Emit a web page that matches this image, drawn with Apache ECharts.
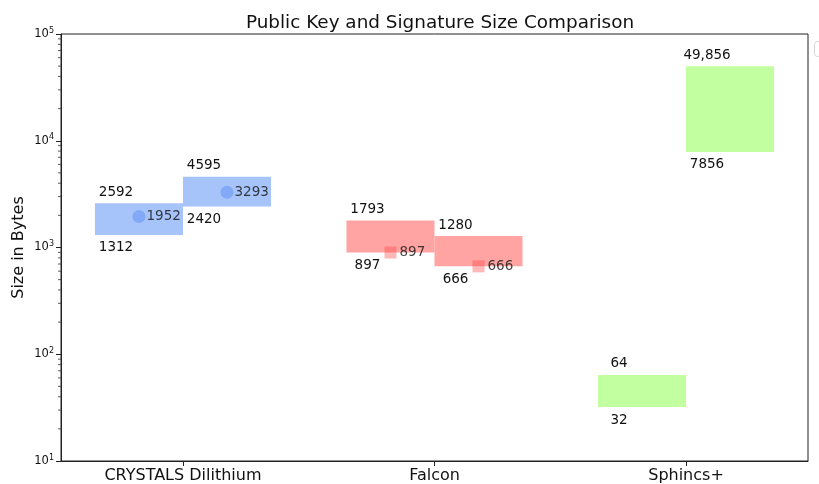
<!DOCTYPE html>
<html>
<head>
<meta charset="utf-8">
<script src="https://cdn.jsdelivr.net/npm/echarts@6/dist/echarts.min.js"></script>
<style>
  html, body { margin: 0; padding: 0; background: #fff; }
  #chart { width: 819px; height: 484px; }
</style>
</head>
<body>
<div id="chart"></div>
<script>
// Schemes on the x axis
const categories = ['CRYSTALS Dilithium', 'Falcon', 'Sphincs+'];

// Public key size range (bytes) per scheme
const pubKeyMin = [1312, 897, 32];
const pubKeyMax = [2592, 1793, 64];

// Signature size range (bytes) per scheme
const sigMin = [2420, 666, 7856];
const sigMax = [4595, 1280, 49856];

// Single reference points inside the ranges
const dilithiumPoints = [1952, 3293];   // public key, signature
const falconPoints = [897, 666];        // public key, signature

// Y tick labels (powers of ten)
const yTickExponents = [1, 2, 3, 4, 5];

const FONT = 'DejaVu Sans';
const BAR_W = 0.35;
const fills = ['#a7c4fa', '#ffa3a3', '#c1ffa0'];

function fmt(v) {
  return v >= 10000 ? v.toLocaleString('en-US') : String(v);
}

// Build the floating range boxes: [category, kind(0 pk / 1 sig), low, high]
const boxData = [];
categories.forEach((c, i) => {
  boxData.push([i, 0, pubKeyMin[i], pubKeyMax[i]]);
  boxData.push([i, 1, sigMin[i], sigMax[i]]);
});

function renderBox(params, api) {
  const i = api.value(0), k = api.value(1);
  const lo = api.value(2), hi = api.value(3);
  const cx = i + (k === 0 ? -BAR_W / 2 : BAR_W / 2);
  const tl = api.coord([cx - BAR_W / 2, hi]);
  const br = api.coord([cx + BAR_W / 2, lo]);
  const mid = api.coord([cx, lo]);
  const lx = mid[0] - 23;
  return {
    type: 'group',
    children: [
      {
        type: 'rect',
        shape: { x: tl[0], y: tl[1], width: br[0] - tl[0], height: br[1] - tl[1] },
        style: { fill: fills[i] }
      },
      {
        type: 'text',
        style: { text: fmt(hi), x: lx, y: tl[1] - 11, align: 'center', verticalAlign: 'middle',
                 fontFamily: FONT, fontSize: 13.5, fill: '#111' }
      },
      {
        type: 'text',
        style: { text: fmt(lo), x: lx, y: br[1] + 13, align: 'center', verticalAlign: 'middle',
                 fontFamily: FONT, fontSize: 13.5, fill: '#111' }
      }
    ]
  };
}

// Log-axis minor ticks at 2..9 × 10^n, placed via the axis scale
const minorTickVals = [];
for (let e = 1; e < 5; e++) for (let m = 2; m <= 9; m++) minorTickVals.push(m * Math.pow(10, e));

const X_MIN = -0.485, X_MAX = 2.485;

function renderMinorTicks(params, api) {
  const children = minorTickVals.map(v => {
    const p = api.coord([X_MIN, v]);
    return { type: 'line', shape: { x1: p[0] - 3, y1: p[1], x2: p[0], y2: p[1] },
             style: { stroke: '#333', lineWidth: 0.8 } };
  });
  return { type: 'group', children };
}

const chart = echarts.init(document.getElementById('chart'), null, { renderer: 'canvas' });

chart.setOption({
  animation: false,
  backgroundColor: '#fff',
  title: {
    text: 'Public Key and Signature Size Comparison',
    left: 435, top: 9, textAlign: 'center',
    textStyle: { fontFamily: FONT, fontSize: 18.4, fontWeight: 'normal', color: '#111' }
  },
  grid: {
    left: 61, right: 11, top: 34, bottom: 23,
    outerBoundsMode: 'none',
    show: true, borderColor: '#222', borderWidth: 1, backgroundColor: 'transparent'
  },
  xAxis: {
    type: 'value', min: X_MIN, max: X_MAX,
    splitLine: { show: false },
    axisLine: { onZero: false, lineStyle: { color: '#222' } },
    axisTick: { show: true, length: 5, inside: false, customValues: [0, 1, 2], lineStyle: { color: '#222' } },
    axisLabel: {
      customValues: [0, 1, 2],
      formatter: v => categories[Math.round(v)] || '',
      margin: 7, fontFamily: FONT, fontSize: 16, color: '#111'
    }
  },
  yAxis: {
    type: 'log', logBase: 10, min: 10, max: 100000,
    name: 'Size in Bytes', nameLocation: 'middle', nameGap: 34, nameRotate: 90,
    nameMoveOverlap: false,
    nameTextStyle: { fontFamily: FONT, fontSize: 16, color: '#111' },
    splitLine: { show: false },
    axisLine: { show: true, onZero: false, lineStyle: { color: '#222' } },
    axisTick: { show: true, length: 5, lineStyle: { color: '#222' } },
    axisLabel: {
      margin: 7,
      formatter: v => {
        const e = Math.round(Math.log10(v));
        return yTickExponents.includes(e) ? '{b|10}{s|' + e + '}' : '';
      },
      rich: {
        b: { fontFamily: FONT, fontSize: 11.5, color: '#111' },
        s: { fontFamily: FONT, fontSize: 8, color: '#111', padding: [0, 0, 7, 0] }
      }
    }
  },
  graphic: [
    {
      type: 'rect', left: 814, top: 41,
      shape: { width: 30, height: 15, r: 3 },
      style: { fill: '#fff', stroke: '#d6d6d6', lineWidth: 1 }
    }
  ],
  series: [
    {
      type: 'custom', name: 'ranges',
      renderItem: renderBox,
      encode: { x: 0, y: [2, 3] },
      data: boxData,
      z: 2
    },
    {
      type: 'custom', name: 'minor ticks',
      renderItem: renderMinorTicks,
      data: [[0, 100]],
      silent: true, z: 5
    },
    {
      type: 'scatter', name: 'CRYSTALS Dilithium',
      symbol: 'circle', symbolSize: 13,
      itemStyle: { color: 'rgba(90,140,240,0.6)' },
      data: [[-BAR_W / 2, dilithiumPoints[0]], [BAR_W / 2, dilithiumPoints[1]]],
      label: { show: true, position: 'right', distance: 1, formatter: p => fmt(p.value[1]),
               fontFamily: FONT, fontSize: 13.5, color: '#111' },
      z: 3
    },
    {
      type: 'scatter', name: 'Falcon',
      symbol: 'rect', symbolSize: 12,
      itemStyle: { color: 'rgba(255,60,60,0.45)' },
      data: [[1 - BAR_W / 2, falconPoints[0]], [1 + BAR_W / 2, falconPoints[1]]],
      label: { show: true, position: 'right', distance: 3, formatter: p => fmt(p.value[1]),
               fontFamily: FONT, fontSize: 13.5, color: '#111' },
      z: 3
    }
  ]
});
</script>
</body>
</html>
